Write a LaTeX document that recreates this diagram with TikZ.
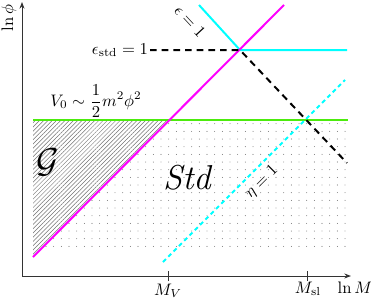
\documentclass[tikz,border=0pt]{standalone}
\usetikzlibrary{patterns.meta,arrows.meta}
\definecolor{lcyan}{rgb}{0,1,1}
\definecolor{lmagenta}{rgb}{1,0,1}
\definecolor{lgreen}{rgb}{0.3,0.92,0.05}
\begin{document}
\begin{tikzpicture}[x=0.6pt, y=-0.6pt, font=\normalsize,
  axis/.style={draw=black!80, line width=0.6pt, -{Stealth[length=4pt]}},
  region/.style={font=\huge\itshape}]
  \useasboundingbox (0,0) rectangle (371,300);
  % axes
  \coordinate (O) at (22,276);
  \coordinate (ytop) at (22,2);
  \coordinate (xend) at (351,276);
  \coordinate (MV) at (168,276);
  \coordinate (Msl) at (307,276);
  % region corners
  \coordinate (gl) at (33,120);
  \coordinate (gr) at (348,120);
  \coordinate (cross) at (170,120);
  \coordinate (dr) at (346,120);
  \coordinate (dbr) at (346,253);
  \coordinate (dbl) at (37,253);
  \coordinate (mbot) at (33,257);
  \coordinate (mtop) at (284,5);
  % regions
  \fill[pattern={Dots[radius=0.25pt, distance=4.6pt]}, pattern color=black!80]
    (cross) -- (dr) -- (dbr) -- (dbl) -- cycle;
  \fill[pattern={Lines[angle=45, distance=1.8pt, line width=0.3pt]}, pattern color=black!55]
    (gl) -- (cross) -- (mbot) -- cycle;
  \draw[axis] (O) -- (ytop);
  \draw[axis] (O) -- (xend);
  \draw[black!80, line width=0.6pt] ([yshift=-3pt]MV) -- ([yshift=3pt]MV);
  \draw[black!80, line width=0.6pt] ([yshift=-3pt]Msl) -- ([yshift=3pt]Msl);
  % lines
  \coordinate (ctop) at (199,5);
  \coordinate (cknee) at (240,50);
  \coordinate (cend) at (347,50);
  \coordinate (kend) at (347,163);
  \coordinate (etop) at (345,80);
  \coordinate (ebot) at (163,262);
  \draw[lgreen, line width=1.2pt] (gl) -- (gr);
  \draw[lcyan, line width=1.2pt] (ctop) -- (cknee) -- (cend);
  \draw[lcyan, line width=1.2pt, dash pattern=on 2.5pt off 2pt] (ebot) -- (etop);
  \draw[lmagenta, line width=1.2pt] (mbot) -- (mtop);
  % labels
  \node[rotate=90] (lnphi) at (9,18) {$\ln\phi$};
  \node (lnM) at (355,288) {$\ln M$};
  \node (lMV) at (168,291) {$M_V$};
  \node (lMsl) at (308,289) {$M_{\rm sl}$};
  \node[anchor=east, inner sep=1pt] (lestd) at (150,50) {$\epsilon_{\rm std}=1$};
  \draw[line width=1.2pt, dash pattern=on 4pt off 3pt] (lestd.east) -- (cknee) -- (kend);
  \node (lV) at (96,101) {$V_0\sim\displaystyle\frac{1}{2}m^2\phi^2$};
  \node[rotate=-47] (leps) at (190,21) {$\epsilon=1$};
  \node[rotate=45] (leta) at (262,182) {$\eta=1$};
  \node[region] (G) at (48,162) {$\mathcal{G}$};
  \node[region] (Std) at (187,178) {Std};
\end{tikzpicture}
\end{document}
